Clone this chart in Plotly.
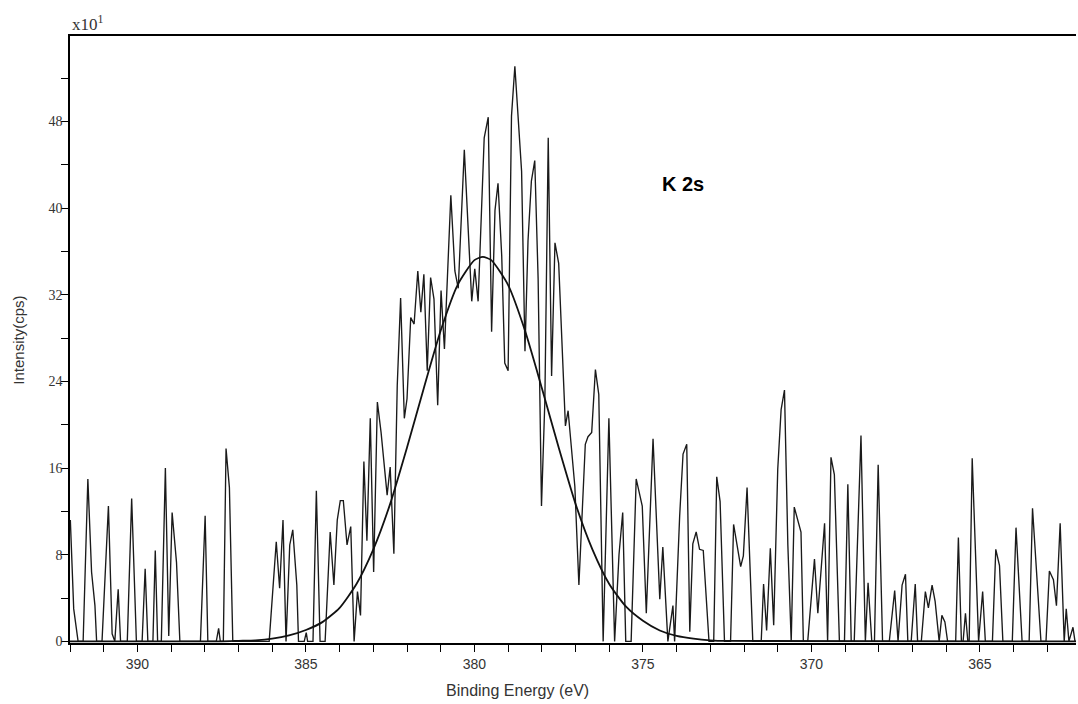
import plotly.graph_objects as go

# Raw K 2s spectrum (vertices): binding energy (eV) and intensity (x10 cps)
energy = [391.99, 391.89, 391.76, 391.61, 391.47, 391.36, 391.26, 391.21, 391.05, 390.86,
          390.75, 390.67, 390.57, 390.50, 390.30, 390.17, 390.03, 389.86, 389.77, 389.69,
          389.54, 389.47, 389.40, 389.29, 389.17, 389.07, 388.97, 388.84, 388.74, 388.13,
          387.99, 387.91, 387.66, 387.59, 387.54, 387.45, 387.37, 387.27, 387.17, 386.09,
          385.88, 385.78, 385.68, 385.59, 385.48, 385.39, 385.27, 385.22, 385.05, 384.99,
          384.95, 384.79, 384.69, 384.58, 384.43, 384.28, 384.17, 384.07, 383.98, 383.89,
          383.78, 383.67, 383.57, 383.47, 383.38, 383.28, 383.19, 383.09, 382.99, 382.88,
          382.77, 382.59, 382.50, 382.39, 382.29, 382.19, 382.08, 382.00, 381.89, 381.79,
          381.68, 381.59, 381.50, 381.40, 381.30, 381.20, 381.09, 380.99, 380.89, 380.70,
          380.58, 380.48, 380.30, 380.08, 379.99, 379.89, 379.71, 379.59, 379.49, 379.39,
          379.30, 379.19, 379.10, 379.00, 378.90, 378.80, 378.60, 378.50, 378.41, 378.31,
          378.21, 378.11, 378.01, 377.91, 377.81, 377.71, 377.61, 377.50, 377.30, 377.22,
          377.02, 376.90, 376.71, 376.63, 376.52, 376.41, 376.31, 376.18, 376.01, 375.84,
          375.71, 375.60, 375.51, 375.35, 375.20, 375.02, 374.90, 374.70, 374.50, 374.41,
          374.26, 374.11, 374.06, 373.91, 373.81, 373.70, 373.61, 373.52, 373.42, 373.32,
          373.21, 373.04, 372.90, 372.81, 372.71, 372.58, 372.40, 372.31, 372.10, 372.02,
          371.91, 371.74, 371.49, 371.42, 371.33, 371.22, 371.12, 371.00, 370.90, 370.80,
          370.70, 370.60, 370.51, 370.31, 370.24, 370.11, 369.91, 369.81, 369.61, 369.52,
          369.42, 369.32, 369.17, 369.02, 368.92, 368.82, 368.73, 368.53, 368.40, 368.32,
          368.21, 368.13, 368.02, 367.89, 367.69, 367.53, 367.43, 367.31, 367.21, 367.14,
          367.04, 366.92, 366.85, 366.74, 366.62, 366.53, 366.42, 366.33, 366.21, 366.13,
          366.04, 365.96, 365.72, 365.64, 365.55, 365.50, 365.43, 365.36, 365.32, 365.23,
          365.04, 364.92, 364.84, 364.63, 364.53, 364.42, 364.32, 364.04, 363.93, 363.75,
          363.54, 363.44, 363.19, 363.04, 362.94, 362.82, 362.73, 362.62, 362.50, 362.44,
          362.36, 362.24, 362.18]
intensity = [11.2, 3.0, 0.0, 0.0, 15.0, 6.4, 3.3, 0.0, 0.0, 12.5,
             0.7, 0.0, 4.8, 0.0, 0.0, 13.2, 0.0, 0.0, 6.7, 0.0,
             0.0, 8.4, 0.0, 0.0, 16.0, 0.5, 11.9, 7.3, 0.0, 0.0,
             11.6, 0.0, 0.0, 1.2, 0.0, 0.0, 17.8, 14.2, 0.0, 0.0,
             9.2, 4.9, 11.2, 0.0, 8.9, 10.3, 5.2, 0.0, 0.0, 0.8,
             0.0, 0.0, 13.9, 0.0, 0.0, 10.1, 5.2, 11.2, 13.0, 13.0,
             8.9, 10.6, 0.0, 4.6, 2.4, 16.6, 9.3, 20.6, 6.4, 22.1,
             19.3, 13.5, 16.1, 8.1, 23.6, 31.7, 20.6, 22.4, 29.9, 29.3,
             34.2, 30.4, 33.9, 25.0, 33.6, 31.6, 21.8, 32.4, 27.0, 41.2,
             34.2, 32.6, 45.4, 31.4, 34.4, 31.4, 46.5, 48.4, 28.6, 39.8,
             42.3, 35.6, 25.7, 25.0, 48.5, 53.1, 43.4, 26.8, 37.0, 42.5,
             44.4, 33.5, 12.5, 22.2, 46.5, 24.5, 36.8, 34.9, 19.9, 21.3,
             14.3, 5.2, 18.2, 18.9, 19.3, 25.1, 22.8, 0.0, 20.6, 0.0,
             8.0, 11.9, 0.0, 0.0, 15.0, 12.5, 2.6, 18.7, 3.9, 8.7,
             0.0, 3.3, 0.0, 11.6, 17.3, 18.2, 0.9, 9.0, 10.1, 8.5,
             8.4, 0.0, 0.0, 15.2, 12.9, 0.0, 0.0, 10.8, 6.9, 7.9,
             14.2, 0.0, 0.0, 5.3, 1.0, 8.6, 1.5, 15.9, 21.4, 23.2,
             8.9, 0.0, 12.4, 10.1, 0.0, 0.0, 7.6, 2.6, 10.9, 0.0,
             17.0, 15.4, 0.0, 0.0, 14.5, 0.0, 0.0, 19.0, 0.0, 5.4,
             0.0, 0.0, 16.3, 0.0, 0.0, 4.7, 0.0, 5.2, 6.2, 0.0,
             0.0, 5.3, 0.0, 0.0, 4.6, 3.1, 5.2, 3.7, 0.0, 2.4,
             1.8, 0.0, 0.0, 9.6, 0.0, 0.0, 2.6, 0.0, 0.0, 16.9,
             0.0, 4.6, 0.0, 0.0, 8.5, 7.0, 0.0, 0.0, 10.5, 0.0,
             0.0, 12.3, 0.0, 0.0, 6.5, 5.7, 3.3, 10.9, 0.0, 3.0,
             0.0, 1.3, 0.0]

# Fitted envelope
fit_energy = [392.0, 387.5, 387.0, 386.5, 386.0, 385.5, 385.0, 384.5, 384.0, 383.5,
              383.0, 382.5, 382.0, 381.5, 381.0, 380.5, 380.0, 379.75, 379.5, 379.0,
              378.5, 378.0, 377.5, 377.0, 376.5, 376.0, 375.5, 375.0, 374.5, 374.0,
              373.5, 373.0, 372.5, 362.15]
fit_intensity = [0.0, 0.0, 0.05, 0.1, 0.25, 0.55, 1.05, 1.8, 3.1, 5.3,
                 8.5, 12.7, 17.9, 23.4, 28.7, 32.9, 35.2, 35.5, 35.2, 32.9,
                 28.7, 23.4, 17.9, 12.7, 8.5, 5.3, 3.2, 1.9, 1.0, 0.5,
                 0.25, 0.1, 0.04, 0.0]

x_ticks = [390, 385, 380, 375, 370, 365]
y_ticks = [0, 8, 16, 24, 32, 40, 48]

fig = go.Figure()
fig.add_trace(go.Scatter(x=energy, y=intensity, mode="lines",
                         line=dict(color="#1a1a1a", width=1.35), hoverinfo="skip"))
fig.add_trace(go.Scatter(x=fit_energy, y=fit_intensity, mode="lines",
                         line=dict(color="#111111", width=1.8, shape="spline", smoothing=0.6),
                         hoverinfo="skip"))

fig.update_layout(
    width=1078, height=704,
    margin=dict(l=70, r=2, t=36, b=61, autoexpand=False),
    paper_bgcolor="white", plot_bgcolor="white",
    showlegend=False,
    xaxis=dict(range=[392.0, 362.15], tickvals=x_ticks, ticktext=[str(v) for v in x_ticks],
               showgrid=False, zeroline=False, showline=True, linecolor="black",
               linewidth=1.5, mirror=True, ticks="outside", ticklen=7, tickwidth=1.2,
               tickcolor="black", automargin=False,
               minor=dict(dtick=1, ticks="outside", ticklen=7, tickwidth=1.2, tickcolor="black"),
               tickfont=dict(family="Liberation Sans Narrow, Liberation Sans, Arial", size=14,
                             color="#333333")),
    yaxis=dict(range=[-0.15, 55.9], tickvals=y_ticks, ticktext=[str(v) for v in y_ticks],
               showgrid=False, zeroline=False, showline=True, linecolor="black",
               linewidth=1.5, mirror=False, ticks="outside", ticklen=7, tickwidth=1.2,
               tickcolor="black", automargin=False, ticklabelstandoff=-4,
               minor=dict(dtick=4, tick0=0, ticks="outside", ticklen=7, tickwidth=1.2,
                          tickcolor="black"),
               tickfont=dict(family="Liberation Serif, Times New Roman, serif", size=14,
                             color="#333333")),
    annotations=[
        dict(text="x10<sup>1</sup>", xref="paper", yref="paper", x=0.0, y=1.0,
             xanchor="left", yanchor="bottom", showarrow=False,
             font=dict(family="Liberation Serif, serif", size=17, color="#333333")),
        dict(text="<b>K 2s</b>", xref="x", yref="y", x=373.8, y=42.2,
             xanchor="center", yanchor="middle", showarrow=False,
             font=dict(family="Liberation Sans, Arial", size=20, color="black")),
        dict(text="Binding Energy (eV)", xref="paper", yref="paper",
             x=(517 - 70) / 1006, y=-(690 - 643) / 607, xanchor="center", yanchor="middle",
             showarrow=False,
             font=dict(family="Liberation Sans, Arial", size=16, color="#333333")),
        dict(text="Intensity(cps)", xref="paper", yref="paper",
             x=-0.052, y=(643 - 340) / 607, xanchor="center", yanchor="middle",
             textangle=-90, showarrow=False,
             font=dict(family="Liberation Sans, Arial", size=15, color="#333333")),
    ],
)

fig.write_html("out.html", config={"displayModeBar": False},
               post_script="document.body.style.margin='0px';document.body.style.overflow='hidden';")
